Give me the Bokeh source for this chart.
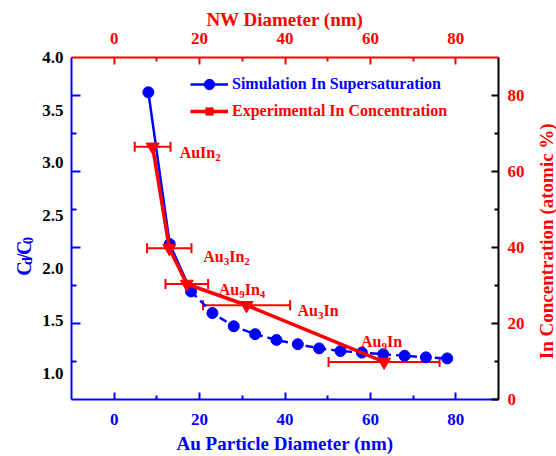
import math
from bokeh.plotting import figure
from bokeh.layouts import row
from bokeh.models import (Range1d, LinearAxis, FixedTicker, ColumnDataSource, Whisker,
                          TeeHead, Legend, LegendItem, PrintfTickFormatter)
from bokeh.core.properties import value
from bokeh.embed import file_html
from bokeh.resources import INLINE

# ---------------- data ----------------
sim_d = [8, 13, 18, 23, 28, 33, 38, 43, 48, 53, 58, 63, 68, 73, 78]
sim_c = [3.67, 2.23, 1.78, 1.575, 1.45, 1.375, 1.32, 1.28, 1.24, 1.215, 1.20, 1.185, 1.17, 1.155, 1.145]

exp_d = [9.0, 12.9, 17.0, 31.0, 63.2]
exp_c = [66.5, 39.8, 30.4, 24.8, 9.9]
exp_err = [4.2, 5.2, 5.0, 10.2, 13.0]
phases = ["AuIn2", "Au3In2", "Au9In4", "Au3In", "Au9In"]

x_ticks = [0, 20, 40, 60, 80]
x_minor = [10, 30, 50, 70]
conc_ticks = [0, 20, 40, 60, 80]
conc_minor = [10, 30, 50, 70]
ratio_ticks = [1.0, 1.5, 2.0, 2.5, 3.0, 3.5, 4.0]

# ---------------- style ----------------
FONT = "Liberation Serif"
BLUE = "#0000FF"
RED = "#FF0000"
BLACK = "#000000"
EM = {"A": 0.722, "u": 0.556, "I": 0.389, "n": 0.556, "C": 0.722, "d": 0.556, "/": 0.278}
for ch in "0123456789":
    EM[ch] = 0.5

def text_w(s, px):
    return sum(EM.get(c, 0.5) for c in s) * px

H = 456
LEFT_W, RIGHT_W = 38, 26
MAIN_W = 556 - LEFT_W - RIGHT_W

p = figure(width=MAIN_W, height=H, x_range=Range1d(-10, 90), y_range=Range1d(0.755, 4.0),
           output_backend="svg", toolbar_location=None,
           x_axis_location=None, y_axis_location=None,
           min_border_left=71 - LEFT_W, min_border_right=32, min_border_top=57, min_border_bottom=55)
p.extra_x_ranges = {"nw": Range1d(-10, 90)}
p.extra_y_ranges = {"conc": Range1d(0, 90)}
p.outline_line_color = None
p.grid.visible = False


def style_axis(ax, line_color, tick_color, label_color, tin=7, tmin=4):
    ax.axis_line_color = line_color
    ax.axis_line_width = 2
    ax.major_tick_line_color = tick_color
    ax.minor_tick_line_color = tick_color
    ax.major_tick_line_width = 2
    ax.minor_tick_line_width = 2
    ax.major_tick_in = tin
    ax.major_tick_out = 0
    ax.minor_tick_in = tmin
    ax.minor_tick_out = 0
    ax.major_label_text_font = FONT
    ax.major_label_text_font_style = "bold"
    ax.major_label_text_font_size = "17px"
    ax.major_label_text_color = label_color
    ax.axis_label_text_font = FONT
    ax.axis_label_text_font_style = "bold"
    ax.axis_label_text_font_size = "19px"
    ax.axis_label_text_color = label_color


bottom = LinearAxis(ticker=FixedTicker(ticks=x_ticks, minor_ticks=x_minor),
                    axis_label="Au Particle Diameter (nm)")
style_axis(bottom, BLUE, BLUE, BLUE)
bottom.major_label_standoff = 14
bottom.axis_label_standoff = 5
p.add_layout(bottom, "below")

top = LinearAxis(x_range_name="nw", ticker=FixedTicker(ticks=x_ticks, minor_ticks=x_minor),
                 axis_label="NW Diameter (nm)")
style_axis(top, RED, RED, RED)
top.major_label_standoff = 14
top.axis_label_standoff = 0
p.add_layout(top, "above")

right = LinearAxis(y_range_name="conc", ticker=FixedTicker(ticks=conc_ticks, minor_ticks=conc_minor))
style_axis(right, BLACK, BLACK, RED)
right.major_label_standoff = 9
p.add_layout(right, "right")

# left: inner axis with ticks only (on the concentration scale), outer with the ratio labels
left_ticks = LinearAxis(y_range_name="conc",
                        ticker=FixedTicker(ticks=[t for t in conc_ticks if t > 0], minor_ticks=conc_minor))
style_axis(left_ticks, BLUE, BLUE, BLUE, tin=9, tmin=5)
left_ticks.major_label_text_font_size = "0px"
left_ticks.major_label_standoff = 0
left_ticks.major_label_overrides = {t: "" for t in conc_ticks}
p.add_layout(left_ticks, "left")

left_lab = LinearAxis(ticker=FixedTicker(ticks=ratio_ticks, minor_ticks=[]),
                      formatter=PrintfTickFormatter(format="%.1f"))
style_axis(left_lab, None, None, BLACK, tin=0, tmin=0)
left_lab.major_label_standoff = 8
p.add_layout(left_lab, "left")

# ---------------- glyphs ----------------
sim_solid = p.line(sim_d[:3], sim_c[:3], line_color=BLUE, line_width=2.5)
p.line(sim_d[2:], sim_c[2:], line_color=BLUE, line_width=2.5, line_dash="8 5")
sim_pts = p.scatter(sim_d, sim_c, marker="circle", size=11, color=BLUE)

exp_line = p.line(exp_d, exp_c, y_range_name="conc", line_color=RED, line_width=3.5)
ws = ColumnDataSource(dict(base=exp_c,
                           lower=[d - e for d, e in zip(exp_d, exp_err)],
                           upper=[d + e for d, e in zip(exp_d, exp_err)]))
whisk = Whisker(source=ws, base="base", lower="lower", upper="upper", dimension="width",
                y_range_name="conc", line_color=RED, line_width=2,
                lower_head=TeeHead(size=10, line_color=RED, line_width=2),
                upper_head=TeeHead(size=10, line_color=RED, line_width=2))
p.add_layout(whisk)
p.scatter(exp_d, exp_c, y_range_name="conc", marker="inverted_triangle", size=13, color=RED)

# legend-only square marker (nothing drawn in the plot)
leg_sq = p.scatter(x=[float("nan")], y=[float("nan")], marker="square", color=RED)

def make_legend(label, rends, color, loc, gh):
    lg = Legend(items=[LegendItem(label=label, renderers=rends)], location=loc,
                glyph_width=38, glyph_height=gh, label_standoff=4, padding=0, spacing=0,
                margin=0, border_line_color=None, background_fill_alpha=0,
                label_text_font=FONT, label_text_font_style="bold",
                label_text_font_size="16px", label_text_color=color)
    p.add_layout(lg)

make_legend("Simulation In Supersaturation", [sim_solid, sim_pts], BLUE, (119, 302), 26)
make_legend("Experimental In Concentration", [exp_line, leg_sq], RED, (119, 279), 18)

# ---------------- phase labels (with subscripts) ----------------
label_dx = [27, 34, 32, 51, -23]
label_dy = [6, 8, 6, 5, -20]
MAIN, SUB = 16, 11
rows = dict(x=[], y=[], text=[], dx=[], dy=[], size=[])
for i, name in enumerate(phases):
    runs = []
    for ch in name:
        is_sub = ch.isdigit()
        if runs and runs[-1][1] == is_sub:
            runs[-1][0] += ch
        else:
            runs.append([ch, is_sub])
    cum = 0.0
    for txt, is_sub in runs:
        px = SUB if is_sub else MAIN
        rows["x"].append(exp_d[i])
        rows["y"].append(exp_c[i])
        rows["text"].append(txt)
        rows["dx"].append(label_dx[i] + cum)
        rows["dy"].append(label_dy[i] + (5 if is_sub else 0))
        rows["size"].append(f"{px}px")
        cum += text_w(txt, px)
p.text(x="x", y="y", text="text", x_offset="dx", y_offset="dy", text_font_size="size",
       source=ColumnDataSource(rows), y_range_name="conc", text_font=value(FONT),
       text_font_style="bold", text_color=RED, text_baseline="alphabetic", text_align="left")


# ---------------- side strips carrying the vertical axis titles ----------------
def strip(w):
    f = figure(width=w, height=H, x_range=Range1d(0, w), y_range=Range1d(0, H),
               output_backend="svg", toolbar_location=None, min_border=0,
               x_axis_location=None, y_axis_location=None)
    f.outline_line_color = None
    f.grid.visible = False
    return f

lf = strip(LEFT_W)
lt = dict(x=[], y=[], text=[], size=[])
ypos = 165.0
for txt, is_sub in [("C", False), ("d", True), ("/", False), ("C", False), ("0", True)]:
    px = 14 if is_sub else 20
    lt["x"].append(23.5 + (3.5 if is_sub else 0))
    lt["y"].append(ypos)
    lt["text"].append(txt)
    lt["size"].append(f"{px}px")
    ypos += text_w(txt, px)
lf.text(x="x", y="y", text="text", text_font_size="size", source=ColumnDataSource(lt),
        angle=math.pi / 2, text_font=value(FONT), text_font_style="bold", text_color=BLUE,
        text_align="left", text_baseline="alphabetic")

rf = strip(RIGHT_W)
rf.text(x=[16], y=[211], text=["In Concentration (atomic %)"], angle=math.pi / 2,
        text_font=value(FONT), text_font_style="bold", text_font_size="19px",
        text_color=RED, text_align="center", text_baseline="alphabetic")

layout = row(lf, p, rf, spacing=0)
open("out.html", "w").write(file_html(layout, INLINE))
